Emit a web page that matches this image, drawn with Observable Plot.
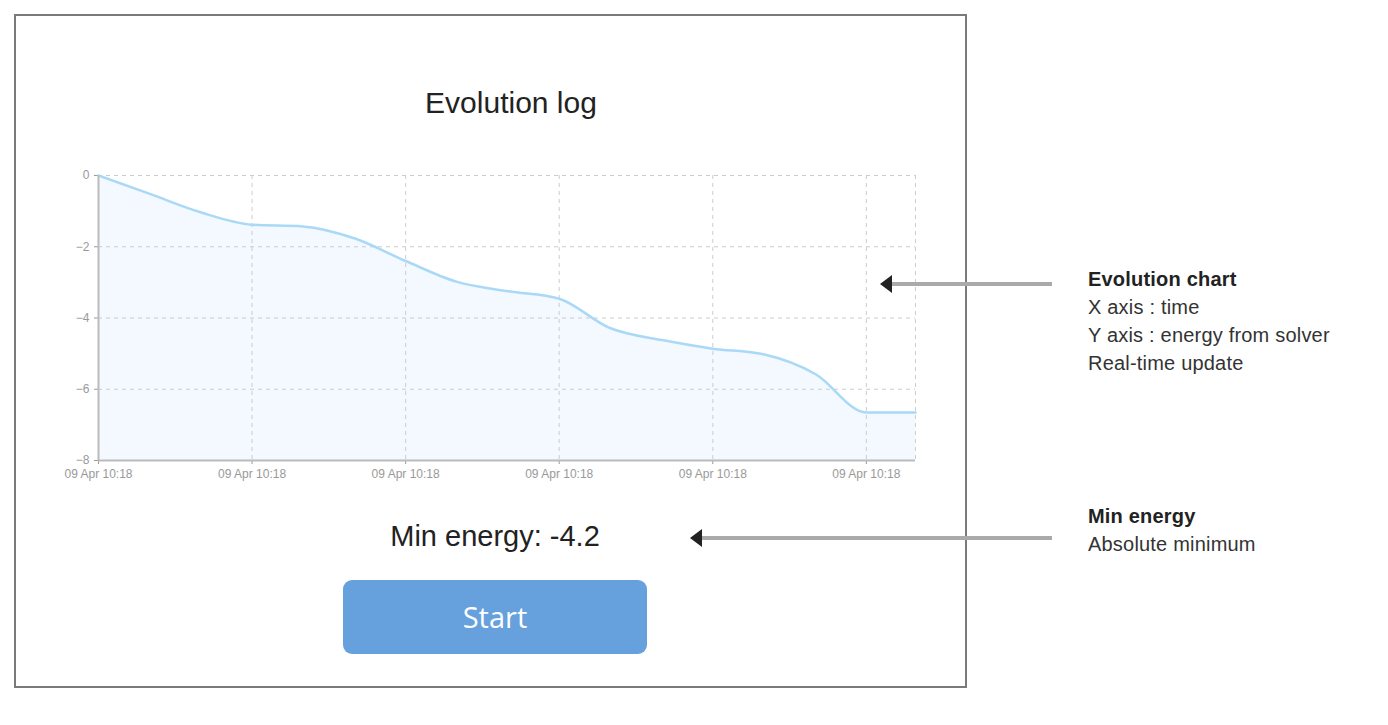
<!DOCTYPE html>
<html>
<head>
<meta charset="utf-8">
<script src="https://cdn.jsdelivr.net/npm/d3@7"></script>
<script src="https://cdn.jsdelivr.net/npm/@observablehq/plot@0.6"></script>
<style>
  body { margin: 0; background: #fff; font-family: "Liberation Sans", Arial, sans-serif; }
  #page { position: relative; width: 1388px; height: 725px; }
  #box { position: absolute; left: 14px; top: 14px; width: 949px; height: 670px; border: 2px solid #7a7a7a; }
  #title { position: absolute; left: 360px; width: 302px; top: 86px; text-align: center; font-size: 30px; color: #222; }
  #graph { position: absolute; left: 58px; top: 165px; }
  #minE { position: absolute; left: 343px; width: 304px; top: 520px; text-align: center; font-size: 29px; color: #222; }
  #start { position: absolute; left: 343px; top: 580px; width: 304px; height: 74px; border-radius: 9px; background: #66a1dd;
           color: #fff; font-family: "Open Sans", sans-serif; font-size: 29px; line-height: 74px; text-align: center; }
  .note { position: absolute; left: 1088px; font-size: 20px; color: #333; line-height: 28px; letter-spacing: 0.2px; }
  .note b { color: #222; }
  .arrow { position: absolute; height: 4px; background: #aaa; }
  .arrow::before { content: ""; position: absolute; left: -4px; top: -7px; border-right: 12px solid #222; border-top: 9px solid transparent; border-bottom: 9px solid transparent; }
</style>
</head>
<body>
<div id="page">
  <div id="box"></div>
  <div id="title">Evolution log</div>
  <div id="graph"></div>
  <div id="minE">Min energy: -4.2</div>
  <div id="start">Start</div>
  <div class="arrow" style="left:884px; top:282px; width:168px;"></div>
  <div class="arrow" style="left:694px; top:536px; width:358px;"></div>
  <div class="note" style="top:265px;"><b>Evolution chart</b><br>X axis : time<br>Y axis : energy from solver<br>Real-time update</div>
  <div class="note" style="top:502px;"><b>Min energy</b><br>Absolute minimum</div>
</div>
<script>
// seconds after 09 Apr 10:18:00
const seconds = [0, 3.3, 6.7, 10, 13.3, 16.7, 20, 23.3, 26.7, 30, 33.3, 36.7, 40, 43.3, 46.7, 50, 53.2];
const energy = [0, -0.51, -1.04, -1.38, -1.43, -1.77, -2.4, -2.98, -3.25, -3.46, -4.28, -4.62, -4.86, -5.02, -5.58, -6.65, -6.65];
const tickSeconds = [0, 10, 20, 30, 40, 50];
const yTicks = [0, -2, -4, -6, -8];

const t0 = new Date(2020, 3, 9, 10, 18, 0);
const toDate = (s) => new Date(t0.getTime() + s * 1000);
const data = seconds.map((s, i) => ({ time: toDate(s), energy: energy[i] }));

const chart = Plot.plot({
  width: 877,
  height: 325,
  marginLeft: 40,
  marginRight: 20,
  marginTop: 10,
  marginBottom: 30,
  style: { fontFamily: "Liberation Sans Narrow, Liberation Sans, sans-serif", fontSize: "12px", color: "#999" },
  x: {
    type: "time",
    domain: [toDate(0), toDate(53.2)],
    ticks: tickSeconds.map(toDate),
    tickFormat: () => "09 Apr 10:18",
    tickSize: 4,
    label: null,
  },
  y: { domain: [-8, 0], ticks: yTicks, tickSize: 4, label: null },
  marks: [
    Plot.areaY(data, { x: "time", y1: () => -8, y2: "energy", fill: "#f3f9fe", curve: "monotone-x" }),
    Plot.gridX(tickSeconds.slice(1).map(toDate).concat([toDate(53.2)]), { stroke: "#ccc", strokeOpacity: 1, strokeDasharray: "4,4" }),
    Plot.gridY(yTicks, { stroke: "#ccc", strokeOpacity: 1, strokeDasharray: "4,4" }),
    Plot.line(data, { x: "time", y: "energy", stroke: "#a9d9f7", strokeWidth: 2.5, curve: "monotone-x" }),
    Plot.ruleY([-8], { stroke: "#bbb", strokeWidth: 2 }),
    Plot.ruleX([toDate(0)], { stroke: "#bbb", strokeWidth: 2 }),
  ],
});
document.getElementById("graph").appendChild(chart);
</script>
</body>
</html>
